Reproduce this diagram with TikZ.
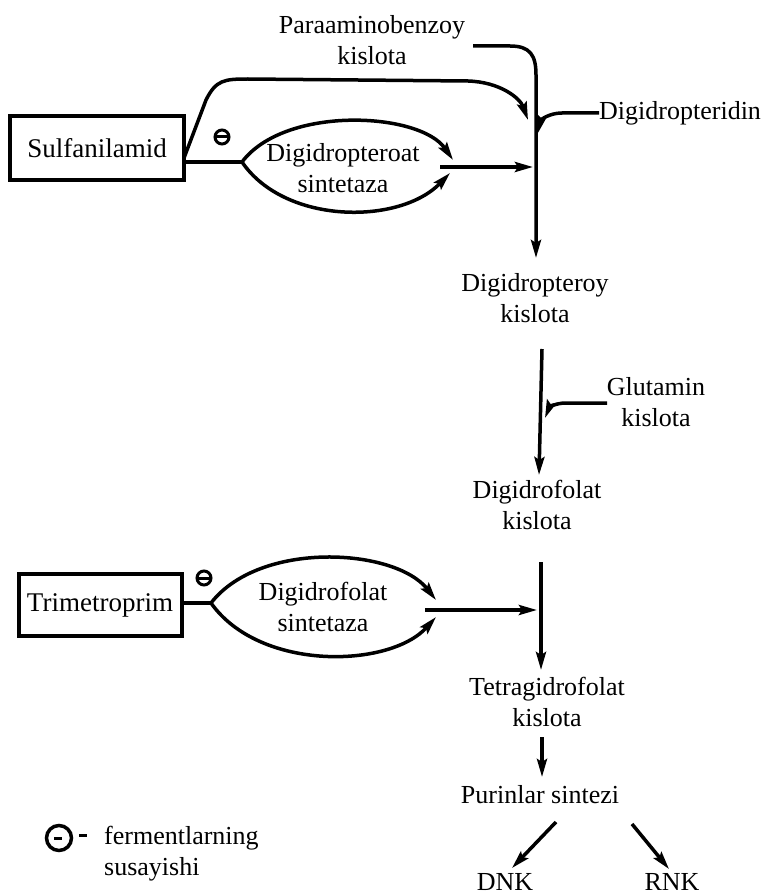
\documentclass[tikz,border=0pt]{standalone}
\usepackage{fontspec}
\setmainfont{Liberation Serif}
\usetikzlibrary{arrows.meta,calc}
\begin{document}
\begin{tikzpicture}[x=1pt,y=-1pt,
  lbl/.style={align=center,font=\fontsize{26}{31}\selectfont,inner sep=0pt},
  ln/.style={line width=3.5pt},
  arr/.style={line width=3.5pt,-{Stealth[length=18pt,width=10pt,inset=3pt]}},
  drugbox/.style={draw,line width=4pt,font=\fontsize{27}{31}\selectfont,inner sep=0pt},
  inh/.style={circle,draw,line width=3pt,minimum size=14pt,inner sep=0pt,
    path picture={\draw[line width=3pt] (path picture bounding box.west) -- (path picture bounding box.east);}}
]
\useasboundingbox (0,0) rectangle (766,896);

% nodes
\node[lbl] (paba) at (372,40) {Paraaminobenzoy\\kislota};
\node[lbl,anchor=west] (dpt) at (599,113) {Digidropteridin};
\node[drugbox,minimum width=174pt,minimum height=64pt] (sulf) at (97,148) {Sulfanilamid};
\node[lbl] (enz1) at (343,168) {Digidropteroat\\sintetaza};
\node[inh] (i1) at (222,137) {};
\node[lbl] (dpk) at (535,298) {Digidropteroy\\kislota};
\node[lbl] (glu) at (656,402) {Glutamin\\kislota};
\node[lbl] (dfk) at (537,505) {Digidrofolat\\kislota};
\node[drugbox,minimum width=163pt,minimum height=62pt] (trim) at (100,605) {Trimetroprim};
\node[lbl] (enz2) at (323,607) {Digidrofolat\\sintetaza};
\node[inh] (i2) at (204,578) {};
\node[lbl] (thf) at (547,702) {Tetragidrofolat\\kislota};
\node[lbl] (pur) at (540,795) {Purinlar sintezi};
\node[lbl,anchor=base] (dnk) at (505,890) {DNK};
\node[lbl,anchor=base] (rnk) at (672,890) {RNK};
\node[circle,draw,line width=3.5pt,minimum size=25pt,inner sep=0pt] (lg) at (59,838) {};
\node[lbl,align=left,anchor=west] (leg) at (104,854) {fermentlarning\\susayishi};

% coordinates
\coordinate (pabaS) at (473,46);
\coordinate (t1) at (536,258);
\coordinate (s1) at (184,158);
\coordinate (l1) at (242,162);
\coordinate (u1) at (453,160);
\coordinate (d1) at (450,173);
\coordinate (h1a) at (440,167);
\coordinate (h1b) at (533,167);
\coordinate (v2a) at (542,349);
\coordinate (v2b) at (539,475);
\coordinate (g0) at (607,403);
\coordinate (v3a) at (541,562);
\coordinate (v3b) at (541,670);
\coordinate (l2) at (211,603);
\coordinate (u2) at (436,600);
\coordinate (d2) at (436,617);
\coordinate (h2a) at (425,610);
\coordinate (h2b) at (537,610);
\coordinate (v4a) at (542,737);
\coordinate (v4b) at (542,777);
\coordinate (dA) at (556,822);
\coordinate (dB) at (512,868);
\coordinate (rA) at (632,824);
\coordinate (rB) at (669,869);
\coordinate (lgA) at (79,835);
\coordinate (lgB) at (87,835);

% main line with PABA
\draw[arr] (pabaS) -- (510,46) .. controls (530,46) and (536,55) .. (536,75) -- (t1);
% sulfanilamid bypass arc
\draw[arr] (s1) -- (206,100) .. controls (216,80) and (224,79) .. (248,79) -- (468,81) .. controls (500,82) and (520,98) .. (528,120);
% digidropteridin
\draw[arr] (dpt.west) -- (562,113) .. controls (549,113) and (541,120) .. (538,133);
% lens 1
\draw[ln] (sulf.east |- l1) -- (l1);
\draw[arr] (l1) .. controls (285,105) and (420,112) .. (u1);
\draw[arr] (l1) .. controls (285,225) and (400,225) .. (d1);
\draw[arr] (h1a) -- (h1b);
% second step
\draw[arr] (v2a) -- (v2b);
\draw[arr] (g0) -- (566,403) .. controls (555,403) and (549,408) .. (545,418);
% third step
\draw[arr] (v3a) -- (v3b);
\draw[ln] (trim.east |- l2) -- (l2);
\draw[arr] (l2) .. controls (260,540) and (395,548) .. (u2);
\draw[arr] (l2) .. controls (260,672) and (390,668) .. (d2);
\draw[arr] (h2a) -- (h2b);
% lower
\draw[arr] (v4a) -- (v4b);
\draw[arr] (dA) -- (dB);
\draw[arr] (rA) -- (rB);
% legend
\draw[line width=3pt] ($(lg)+(-5,0)$) -- ($(lg)+(3,0)$);
\draw[line width=3pt] (lgA) -- (lgB);
\end{tikzpicture}
\end{document}
